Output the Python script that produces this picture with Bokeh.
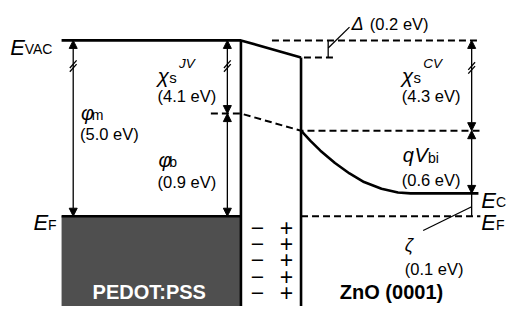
from bokeh.plotting import figure
from bokeh.models import Range1d, Arrow, NormalHead, ColumnDataSource
from bokeh.core.properties import value
from bokeh.embed import file_html
from bokeh.resources import INLINE

FONT = value("Liberation Sans")

# ---------------- data (diagram units, y measured downward) ----------------
# energy levels
lvl_vac = 42          # vacuum level (PEDOT side / far ZnO)
lvl_vac_zno = 60      # vacuum level at ZnO surface (Δ below)
lvl_cb_pedot = 119    # barrier level on PEDOT side
lvl_cb_zno = 137      # conduction band edge at ZnO interface
lvl_ec = 203          # bulk conduction band edge
lvl_ef = 227          # Fermi level
lvl_bottom = 330

# lateral positions
x_left = 63
x_pedot = 248
x_zno = 310
x_right = 495
x_arrow_m = 75
x_arrow_s = 234
x_arrow_zno = 486

# band bending of ZnO conduction band
bend_x = [310, 320, 330, 345, 360, 375, 393, 410, 423, 493]
bend_y = [137, 148, 158, 171, 182, 191, 198, 202, 203, 203]

# energy values
val_phi_m = "(5.0 eV)"
val_chi_jv = "(4.1 eV)"
val_phi_b = "(0.9 eV)"
val_chi_cv = "(4.3 eV)"
val_qvbi = "(0.6 eV)"
val_zeta = "(0.1 eV)"
val_delta = "(0.2 eV)"

# interface dipole charges
charge_y = [239, 256, 273, 290, 307]

# ---------------- figure ----------------
p = figure(width=508, height=306, output_backend="svg", toolbar_location=None,
           x_range=Range1d(0, 524), y_range=Range1d(322, 0), min_border=0)
p.axis.visible = False
p.grid.visible = False
p.outline_line_color = None
p.background_fill_color = "white"

# PEDOT:PSS block
p.quad(left=[x_left], right=[x_pedot], top=[lvl_ef], bottom=[lvl_bottom],
       fill_color="#4f4f4f", line_color=None)

# solid thick lines
p.multi_line(xs=[[x_left, x_pedot, x_zno], [x_pedot, x_pedot], [x_zno, x_zno], [x_left, x_pedot]],
             ys=[[lvl_vac, lvl_vac, lvl_vac_zno], [lvl_vac, lvl_bottom], [lvl_vac_zno, lvl_bottom], [lvl_ef, lvl_ef]],
             line_color="black", line_width=2.6)
p.line(bend_x, bend_y, line_color="black", line_width=2.6)

# dashed lines
p.multi_line(xs=[[217, x_pedot, x_zno, x_right], [280, x_right], [313, 346], [x_zno, x_right]],
             ys=[[lvl_cb_pedot, lvl_cb_pedot, lvl_cb_zno, lvl_cb_zno], [lvl_vac, lvl_vac],
                 [lvl_vac_zno, lvl_vac_zno], [lvl_ef, lvl_ef]],
             line_color="black", line_width=2, line_dash="7 4")

# thin ticks and leaders
p.segment(x0=[338, 338, x_arrow_zno, x_arrow_zno], y0=[lvl_vac, 50, lvl_ec, 217],
          x1=[338, 360, x_arrow_zno, 436], y1=[lvl_vac_zno, 28, lvl_ef, 242],
          line_color="black", line_width=1.3)

# break marks on arrows
brk_x = [x_arrow_m, x_arrow_s, x_arrow_zno]
brk_y = [69, 69, 71]
for bx, by in zip(brk_x, brk_y):
    p.segment(x0=[bx - 3.5, bx - 3.5], y0=[by + 2, by + 6], x1=[bx + 3.5, bx + 3.5], y1=[by - 6, by - 2],
              line_color="black", line_width=1.3)

# double-headed arrows
arr = ColumnDataSource(dict(
    xs=[x_arrow_m, x_arrow_s, x_arrow_s, x_arrow_zno, x_arrow_zno],
    ys=[lvl_vac, lvl_vac, lvl_cb_pedot, lvl_vac, lvl_cb_zno],
    xe=[x_arrow_m, x_arrow_s, x_arrow_s, x_arrow_zno, x_arrow_zno],
    ye=[lvl_ef, lvl_cb_pedot, lvl_ef, lvl_cb_zno, lvl_ec]))
p.add_layout(Arrow(source=arr, x_start="xs", y_start="ys", x_end="xe", y_end="ye",
                   line_width=1.3, line_color="black",
                   start=NormalHead(size=8, fill_color="black", line_color="black", line_width=1),
                   end=NormalHead(size=8, fill_color="black", line_color="black", line_width=1)))


def txt(x, y, t, size, style="normal", color="black", align="left", baseline="alphabetic"):
    p.text(x=[x], y=[y], text=[t], text_font=FONT, text_font_size=f"{size}px",
           text_font_style=style, text_color=color, text_align=align, text_baseline=baseline)


# level labels
txt(10, 49, "E", 22, "italic"); txt(25, 51, "VAC", 14)
txt(34, 234, "E", 22, "italic"); txt(49, 236, "F", 14)
txt(496, 210, "E", 22, "italic"); txt(511, 212, "C", 14)
txt(496, 234, "E", 22, "italic"); txt(511, 236, "F", 14)

# quantities
txt(83, 118, "φ", 20, "italic"); txt(94, 120, "m", 14)
txt(82, 141, val_phi_m, 16.5)
txt(162, 79, "χ", 21, "italic"); txt(174, 81, "s", 15); txt(184, 66, "JV", 13.5, "italic")
txt(162, 101, val_chi_jv, 16.5)
txt(163, 168, "φ", 20, "italic"); txt(174, 170, "b", 14)
txt(162, 191, val_phi_b, 16.5)
txt(414, 79, "χ", 21, "italic"); txt(426, 81, "s", 15); txt(436, 66, "CV", 13.5, "italic")
txt(414, 101, val_chi_cv, 16.5)
txt(415, 163, "q", 20, "italic"); txt(427, 163, "V", 20, "italic"); txt(441, 166, "bi", 14)
txt(414, 189, val_qvbi, 16.5)
txt(362, 25, "Δ", 18, "italic"); txt(381, 25, val_delta, 16.5)
txt(417, 257, "ζ", 18, "italic"); txt(417, 283, val_zeta, 16.5)

# material labels
txt(95, 307, "PEDOT:PSS", 20, "bold", "white")
txt(350, 307, "ZnO (0001)", 20, "bold", "black")

# interface charges
p.text(x=[265] * len(charge_y), y=charge_y, text=["−"] * len(charge_y), text_font=FONT,
       text_font_size="23px", text_align="center", text_baseline="middle", text_color="black")
p.text(x=[295] * len(charge_y), y=charge_y, text=["+"] * len(charge_y), text_font=FONT,
       text_font_size="23px", text_align="center", text_baseline="middle", text_color="black")

open("out.html", "w").write(file_html(p, INLINE))
